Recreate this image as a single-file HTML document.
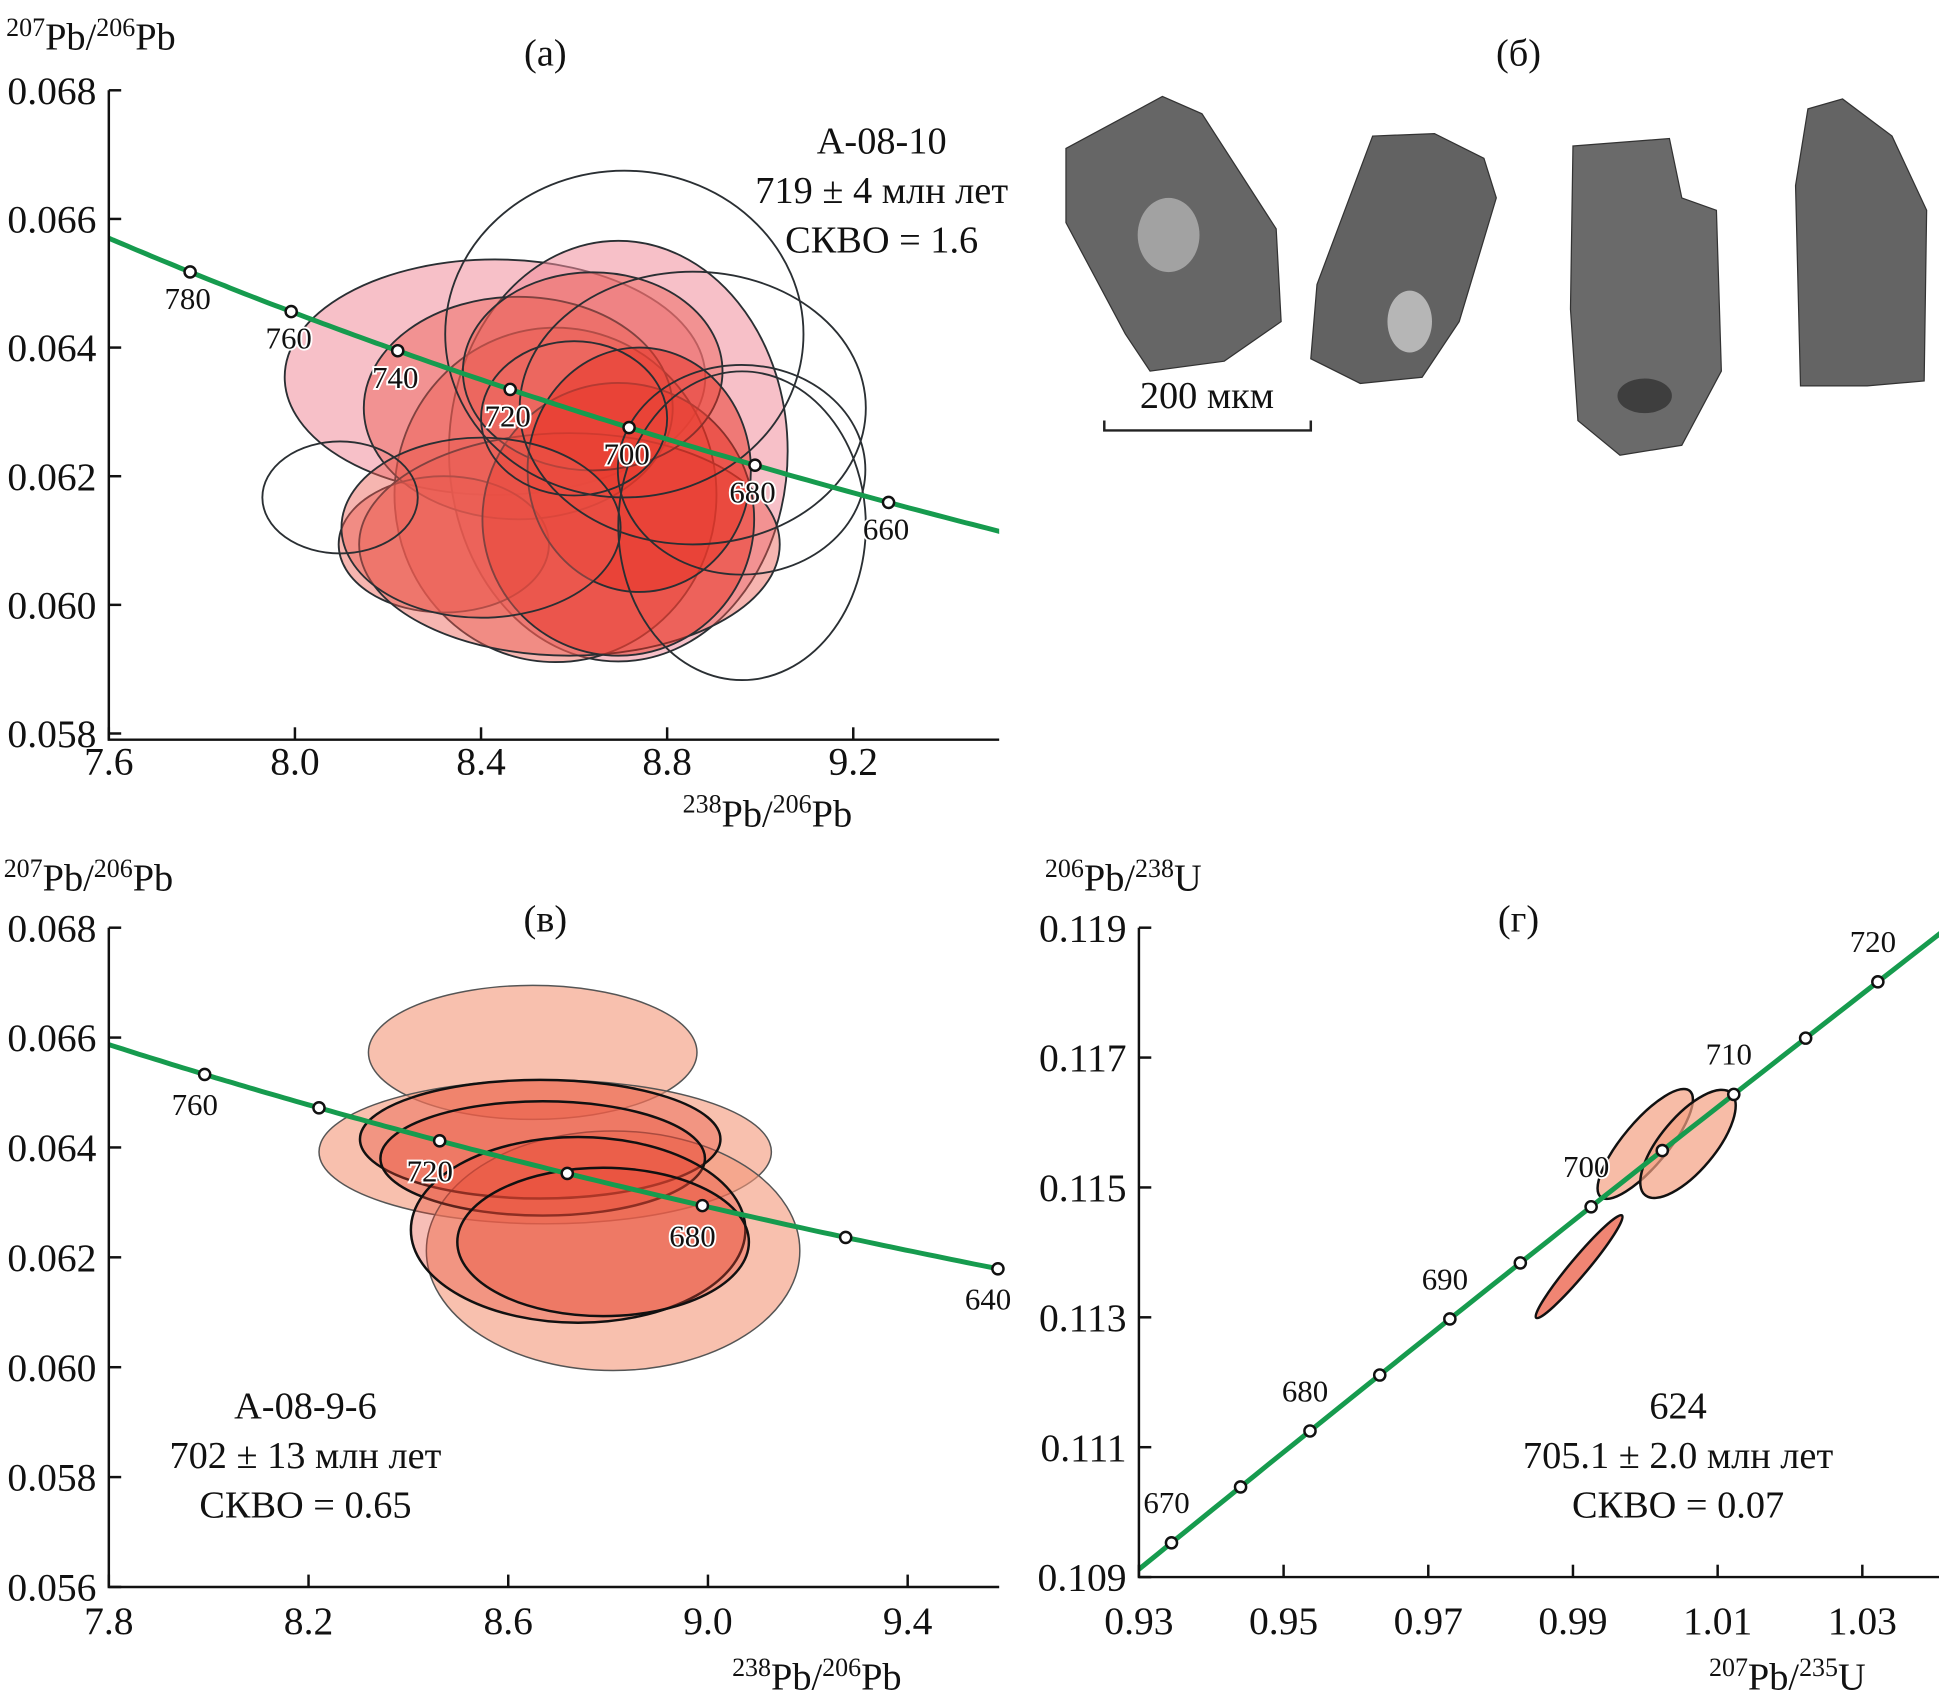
<!DOCTYPE html>
<html><head><meta charset="utf-8"><style>
html,body{margin:0;padding:0;background:#fff;overflow:hidden;width:1939px;height:1702px;}
svg{display:block;}
text{font-family:"Liberation Serif","Times New Roman",serif;}
.tk{font-size:32px;fill:#111;}
.ttl{font-size:31px;fill:#111;}
.lbl{font-size:25px;fill:#111;stroke:#fff;stroke-width:3px;paint-order:stroke;}
</style></head><body>
<svg id="fig" width="1939" height="1702" viewBox="0 0 1568 1376" preserveAspectRatio="none" xmlns="http://www.w3.org/2000/svg" font-family="Liberation Serif, serif">
<defs>
<clipPath id="ca"><rect x="88" y="60" width="720" height="540"/></clipPath>
<clipPath id="cb"><rect x="88" y="740" width="720" height="545"/></clipPath>
<clipPath id="cg"><rect x="921" y="740" width="647" height="537"/></clipPath>
</defs>
<g id="pa"></g>
<g id="pb"></g>
<g id="pg"></g>
<g id="photos">
<text x="1228" y="53" class="ttl" text-anchor="middle">(б)</text>
<polygon points="862,120 940,78 972,92 1032,185 1036,260 990,292 930,300 910,270 862,180" fill="#666" stroke="#333"/>
<polygon points="1110,110 1160,108 1200,128 1210,160 1180,260 1150,305 1100,310 1060,290 1065,230" fill="#626262" stroke="#333"/>
<polygon points="1272,118 1350,112 1360,160 1388,170 1392,300 1360,360 1310,368 1276,340 1270,250" fill="#6a6a6a" stroke="#333"/>
<polygon points="1462,88 1490,80 1530,110 1558,170 1556,308 1510,312 1456,312 1452,150" fill="#646464" stroke="#333"/>
<ellipse cx="945" cy="190" rx="25" ry="30" fill="#ddd" opacity="0.5"/>
<ellipse cx="1140" cy="260" rx="18" ry="25" fill="#eee" opacity="0.6"/>
<ellipse cx="1330" cy="320" rx="22" ry="14" fill="#222" opacity="0.6"/>
<path d="M893,340 V348 H1060 V340" fill="none" stroke="#222" stroke-width="2"/>
<text x="976" y="330" class="ttl" text-anchor="middle">200 мкм</text>
</g>
</svg>
<script>
// ---------- data ----------
const L238 = 1.55125e-10, L235 = 9.8485e-10, U_RATIO = 137.88;
// panel a
const aXTicks = [7.6, 8.0, 8.4, 8.8, 9.2];
const aYTicks = [0.058, 0.060, 0.062, 0.064, 0.066, 0.068];
const aAges = [780, 760, 740, 720, 700, 680, 660];
const aEllX = [8.43, 8.695, 8.56, 8.48, 8.32, 8.59, 8.695, 8.64, 8.74, 8.40];
const aEllY = [0.06354, 0.06239, 0.06171, 0.06306, 0.06094, 0.06094, 0.06133, 0.06363, 0.0621, 0.0612];
const aEllRx = [0.452, 0.364, 0.346, 0.332, 0.226, 0.452, 0.292, 0.279, 0.24, 0.30];
const aEllRy = [0.00183, 0.00327, 0.0026, 0.00173, 0.00106, 0.00173, 0.00212, 0.00154, 0.0019, 0.0014];
const aEllFill = [1, 1, 2, 2, 2, 2, 3, 2, 3, 2];
const aOutX = [8.708, 8.961, 8.097, 8.855, 8.96, 8.60];
const aOutY = [0.06421, 0.06123, 0.06167, 0.06306, 0.0621, 0.0629];
const aOutRx = [0.385, 0.266, 0.167, 0.372, 0.266, 0.20];
const aOutRy = [0.00254, 0.0024, 0.00087, 0.00212, 0.00163, 0.0012];
// panel v
const bXTicks = [7.8, 8.2, 8.6, 9.0, 9.4];
const bYTicks = [0.056, 0.058, 0.060, 0.062, 0.064, 0.066, 0.068];
const bAges = [760, 740, 720, 700, 680, 660, 640];
const bLabels = [760, 720, 680, 640];
const bCurveShift = 0.00077; // vertical offset of concordia as drawn in the source figure
const bEllX = [8.649, 8.674, 8.81, 8.664, 8.669, 8.74, 8.79];
const bEllY = [0.06573, 0.06392, 0.06212, 0.06415, 0.0638, 0.0625, 0.06228];
const bEllRx = [0.329, 0.453, 0.374, 0.361, 0.325, 0.335, 0.292];
const bEllRy = [0.00122, 0.00131, 0.00218, 0.00108, 0.00104, 0.00169, 0.00135];
const bEllFill = [1, 1, 1, 2, 2, 2, 2];
// panel g
const gXTicks = [0.93, 0.95, 0.97, 0.99, 1.01, 1.03];
const gYTicks = [0.109, 0.111, 0.113, 0.115, 0.117, 0.119];
const gAges = [670, 675, 680, 685, 690, 695, 700, 705, 710, 715, 720];
const gLabels = [670, 680, 690, 700, 710, 720];
const gEllX = [0.99999, 1.0059, 0.99085];
const gEllY = [0.11567, 0.11567, 0.11378];
const gEllA = [56, 54, 54];
const gEllB = [18, 22, 7];
const gEllFill = [1, 1, 2];

// ---------- helpers ----------
const NS = 'http://www.w3.org/2000/svg';
function mk(tag, attrs, parent, txt) {
  const e = document.createElementNS(NS, tag);
  for (const k in attrs) e.setAttribute(k, attrs[k]);
  if (txt !== undefined) e.textContent = txt;
  parent.appendChild(e);
  return e;
}
function lin(d0, d1, p0, p1) { return v => p0 + (v - d0) * (p1 - p0) / (d1 - d0); }
function tw(t) { const r8 = Math.exp(L238 * t * 1e6) - 1, r5 = Math.exp(L235 * t * 1e6) - 1; return [1 / r8, r5 / r8 / U_RATIO]; }
function twShift(t) { const p = tw(t); return [p[0], p[1] + bCurveShift]; }
function wc(t) { return [Math.exp(L235 * t * 1e6) - 1, Math.exp(L238 * t * 1e6) - 1]; }

function axes(g, ax) {
  const {x0, x1, y0, y1, xs, ys, xt, yt, fmtX, fmtY, xoff} = ax;
  const a = mk('path', {d: `M${x0},${y1} V${y0} H${x1}`, fill: 'none', stroke: '#111', 'stroke-width': 2}, g);
  
  
  xt.forEach(v => {
    const px = xs(v);
    const t = mk('line', {x1: px, x2: px, y1: y0, y2: y0 - 10, stroke: '#111', 'stroke-width': 2}, g);
    
    
    const l = mk('text', {x: px, y: y0 + xoff, class: 'tk', 'text-anchor': 'middle'}, g, fmtX(v));
    
    
  });
  yt.forEach(v => {
    const py = ys(v);
    const t = mk('line', {x1: x0, x2: x0 + 10, y1: py, y2: py, stroke: '#111', 'stroke-width': 2}, g);
    
    
    const l = mk('text', {x: x0 - 10, y: py + 11, class: 'tk', 'text-anchor': 'end'}, g, fmtY(v));
    
    
  });
}
function title(g, x, y, sup1, b1, sup2, b2, name, anchor) {
  const t = mk('text', {x: x, y: y, class: 'ttl', 'text-anchor': anchor || 'start'}, g);
  
  
  mk('tspan', {'font-size': 21, dy: -11}, t, sup1);
  mk('tspan', {dy: 11}, t, b1 + '/');
  mk('tspan', {'font-size': 21, dy: -11}, t, sup2);
  mk('tspan', {dy: 11}, t, b2);
}
function block(g, x, y, lines, name) {
  lines.forEach((s, i) => {
    const t = mk('text', {x: x, y: y + i * 40, class: 'ttl', 'text-anchor': 'middle'}, g, s);
    
    
  });
}
function curve(g, f, t0, t1, xs, ys, clip) {
  let d = '';
  for (let t = t0; t <= t1; t += 1) { const p = f(t); d += (d ? 'L' : 'M') + xs(p[0]).toFixed(1) + ',' + ys(p[1]).toFixed(1); }
  const c = mk('path', {d: d, fill: 'none', stroke: '#169b4e', 'stroke-width': 4, 'clip-path': `url(#${clip})`}, g);
  
  
}
function ageDots(g, f, ages, labels, xs, ys, dx, dy) {
  ages.forEach(a => {
    const p = f(a);
    const c = mk('circle', {cx: xs(p[0]), cy: ys(p[1]), r: 4.5, fill: '#fff', stroke: '#111', 'stroke-width': 2}, g);
    
    
  });
  ages.forEach(a => {
    if (labels.indexOf(a) < 0) return;
    const p = f(a);
    const t = mk('text', {x: xs(p[0]) + dx, y: ys(p[1]) + dy, class: 'lbl', 'text-anchor': 'middle'}, g, String(a));
    
    
  });
}

// ---------- panel a ----------
(function () {
  const g = document.getElementById('pa');
  const xs = lin(7.6, 9.2, 88, 690), ys = lin(0.068, 0.058, 73, 593);
  const fills = ['', 'rgba(240,140,155,0.55)', 'rgba(235,90,80,0.45)', 'rgba(232,50,35,0.5)'];
  aEllX.forEach((v, i) => {
    const e = mk('ellipse', {cx: xs(v), cy: ys(aEllY[i]), rx: xs(v + aEllRx[i]) - xs(v), ry: ys(aEllY[i] - aEllRy[i]) - ys(aEllY[i]), fill: fills[aEllFill[i]], stroke: '#2a2f33', 'stroke-width': 1.5}, g);
    
    
  });
  aOutX.forEach((v, i) => {
    const e = mk('ellipse', {cx: xs(v), cy: ys(aOutY[i]), rx: xs(v + aOutRx[i]) - xs(v), ry: ys(aOutY[i] - aOutRy[i]) - ys(aOutY[i]), fill: 'none', stroke: '#2a2f33', 'stroke-width': 1.5}, g);
    
    
  });
  curve(g, tw, 600, 830, xs, ys, 'ca');
  ageDots(g, tw, aAges, aAges, xs, ys, -2, 30);
  axes(g, {x0: 88, x1: 808, y0: 598, y1: 73, xs, ys, xt: aXTicks, yt: aYTicks, fmtX: v => v.toFixed(1), fmtY: v => v.toFixed(3), xoff: 28});
  title(g, 5, 40, '207', 'Pb', '206', 'Pb', 'y-axis-title');
  title(g, 552, 668, '238', 'Pb', '206', 'Pb', 'x-axis-title');
  block(g, 441, 53, ['(a)'], 'panel-a-title');
  block(g, 713, 124, ['А-08-10', '719 ± 4 млн лет', 'СКВО = 1.6'], 'panel-a-annotation');
})();

// ---------- panel v ----------
(function () {
  const g = document.getElementById('pb');
  const xs = lin(7.8, 9.4, 88, 734), ys = lin(0.068, 0.056, 750, 1283);
  const fills = ['', 'rgba(244,150,120,0.6)', 'rgba(232,70,50,0.35)'];
  bEllX.forEach((v, i) => {
    const e = mk('ellipse', {cx: xs(v), cy: ys(bEllY[i]), rx: xs(v + bEllRx[i]) - xs(v), ry: ys(bEllY[i] - bEllRy[i]) - ys(bEllY[i]), fill: fills[bEllFill[i]], stroke: bEllFill[i] === 1 ? '#555' : '#111', 'stroke-width': bEllFill[i] === 1 ? 1.2 : 2}, g);
    
    
  });
  curve(g, twShift, 600, 830, xs, ys, 'cb');
  ageDots(g, twShift, bAges, bLabels, xs, ys, -8, 33);
  axes(g, {x0: 88, x1: 808, y0: 1283, y1: 750, xs, ys, xt: bXTicks, yt: bYTicks, fmtX: v => v.toFixed(1), fmtY: v => v.toFixed(3), xoff: 38});
  title(g, 3, 720, '207', 'Pb', '206', 'Pb', 'y-axis-title');
  title(g, 592, 1366, '238', 'Pb', '206', 'Pb', 'x-axis-title');
  block(g, 441, 753, ['(в)'], 'panel-v-title');
  block(g, 247, 1147, ['А-08-9-6', '702 ± 13 млн лет', 'СКВО = 0.65'], 'panel-v-annotation');
})();

// ---------- panel g ----------
(function () {
  const g = document.getElementById('pg');
  const xs = lin(0.93, 1.03, 921, 1506), ys = lin(0.119, 0.109, 750, 1275);
  const fills = ['', 'rgba(244,160,130,0.7)', 'rgba(238,120,100,0.9)'];
  gEllX.forEach((v, i) => {
    const cx = xs(v), cy = ys(gEllY[i]);
    const e = mk('ellipse', {cx: cx, cy: cy, rx: gEllA[i], ry: gEllB[i], transform: `rotate(-50 ${cx} ${cy})`, fill: fills[gEllFill[i]], stroke: '#111', 'stroke-width': 2}, g);
    
    
  });
  curve(g, wc, 600, 760, xs, ys, 'cg');
  ageDots(g, wc, gAges, gLabels, xs, ys, -4, -24);
  axes(g, {x0: 921, x1: 1568, y0: 1275, y1: 750, xs, ys, xt: gXTicks, yt: gYTicks, fmtX: v => v.toFixed(2), fmtY: v => v.toFixed(3), xoff: 46});
  title(g, 845, 720, '206', 'Pb', '238', 'U', 'y-axis-title');
  title(g, 1382, 1366, '207', 'Pb', '235', 'U', 'x-axis-title');
  block(g, 1228, 753, ['(г)'], 'panel-g-title');
  block(g, 1357, 1147, ['624', '705.1 ± 2.0 млн лет', 'СКВО = 0.07'], 'panel-g-annotation');
})();
</script>
</body></html>
